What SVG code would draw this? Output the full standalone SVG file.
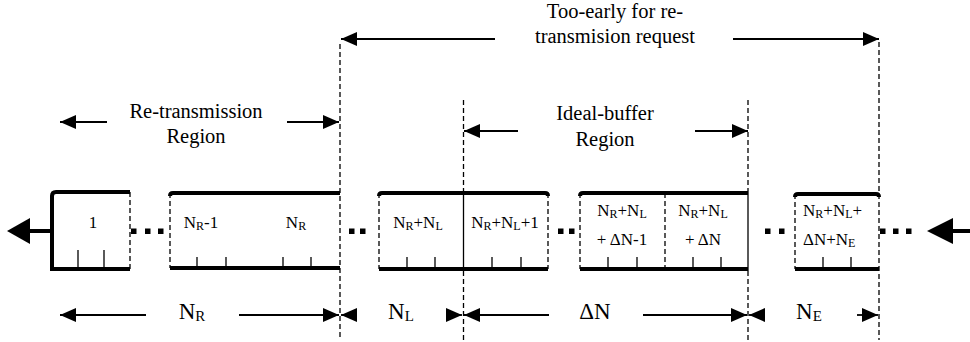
<svg xmlns="http://www.w3.org/2000/svg" width="970" height="342" viewBox="0 0 970 342">
<style>
text{font-family:"Liberation Serif","Times New Roman",serif;fill:#000}
.lbl{font-size:20.5px;text-anchor:middle}
.cell{font-size:17px;text-anchor:middle}
.big{font-size:23px;text-anchor:middle}
.thick{stroke:#000;stroke-width:4;fill:none;stroke-linecap:butt}
.dash{stroke:#000;stroke-width:1.3;stroke-dasharray:5 3;fill:none}
.thin{stroke:#000;stroke-width:1.3;fill:none}
.tick{stroke:#000;stroke-width:1.3}
.arr{stroke:#000;stroke-width:1.8;fill:none;marker-end:url(#ah)}
.dot{fill:#000}
</style>
<defs>
<marker id="ah" markerUnits="userSpaceOnUse" markerWidth="17" markerHeight="15" refX="16" refY="7" orient="auto">
<path d="M0,0 L16,7 L0,14 z" fill="#000"/>
</marker>
</defs>

<!-- long dashed boundaries -->
<g id="boundaries">
<line class="dash" x1="340" y1="44" x2="340" y2="340"/>
<line class="dash" x1="463.5" y1="100" x2="463.5" y2="191"/>
<line class="dash" x1="463.5" y1="271" x2="463.5" y2="340"/>
<line class="dash" x1="748" y1="100" x2="748" y2="191"/>
<line class="dash" x1="748" y1="271" x2="748" y2="340"/>
<line class="dash" x1="879" y1="42" x2="879" y2="340"/>
</g>

<!-- region labels -->
<g id="too-early">
<text class="lbl" x="615" y="18">Too-early for re-</text>
<text class="lbl" x="615" y="43">transmision request</text>
</g>
<g id="retransmission-region">
<text class="lbl" x="196" y="118">Re-transmission</text>
<text class="lbl" x="196" y="143">Region</text>
</g>
<g id="ideal-buffer-region">
<text class="lbl" x="605" y="120">Ideal-buffer</text>
<text class="lbl" x="605" y="146">Region</text>
</g>

<!-- cell 1 -->
<g id="cell-1">
<path class="thick" d="M130,192 H56 Q52,192 52,196 V269 H130"/>
<line class="dash" x1="130" y1="192" x2="130" y2="269"/>
<line class="tick" x1="78" y1="250" x2="78" y2="268"/>
<line class="tick" x1="104" y1="250" x2="104" y2="268"/>
<text class="cell" x="93" y="228">1</text>
</g>

<!-- cells N_R-1 .. N_R -->
<g id="cell-NR">
<path class="thick" d="M170,196 Q170,193 173,193 H340"/>
<path class="thick" d="M170,268 H340"/>
<line class="dash" x1="170" y1="193" x2="170" y2="268"/>
<line class="tick" x1="197" y1="257" x2="197" y2="267"/>
<line class="tick" x1="226" y1="257" x2="226" y2="267"/>
<line class="tick" x1="283" y1="257" x2="283" y2="267"/>
<line class="tick" x1="311" y1="257" x2="311" y2="267"/>
<text class="cell" x="201" y="228">N<tspan font-size="12" dy="2">R</tspan><tspan dy="-2">-1</tspan></text>
<text class="cell" x="296" y="228">N<tspan font-size="12" dy="2">R</tspan></text>
</g>

<!-- cells N_R+N_L .. N_R+N_L+1 -->
<g id="cell-NRNL">
<path class="thick" d="M379,196 Q379,193 382,193 H545 Q548,193 548,196"/>
<path class="thick" d="M379,269 H548"/>
<line class="dash" x1="379" y1="193" x2="379" y2="269"/>
<line class="dash" x1="548" y1="193" x2="548" y2="269"/>
<line class="thin" x1="463.5" y1="191" x2="463.5" y2="271"/>
<line class="tick" x1="407" y1="257" x2="407" y2="268"/>
<line class="tick" x1="435" y1="257" x2="435" y2="268"/>
<line class="tick" x1="492" y1="257" x2="492" y2="268"/>
<line class="tick" x1="521" y1="257" x2="521" y2="268"/>
<text class="cell" x="418" y="228">N<tspan font-size="12" dy="2">R</tspan><tspan dy="-2">+N</tspan><tspan font-size="12" dy="2">L</tspan></text>
<text class="cell" x="505" y="228">N<tspan font-size="12" dy="2">R</tspan><tspan dy="-2">+N</tspan><tspan font-size="12" dy="2">L</tspan><tspan dy="-2">+1</tspan></text>
</g>

<!-- cells N_R+N_L+ΔN-1 .. N_R+N_L+ΔN -->
<g id="cell-NRNLdN">
<path class="thick" d="M580,196 Q580,193 583,193 H748"/>
<path class="thick" d="M580,269 H748"/>
<line class="dash" x1="580" y1="193" x2="580" y2="269"/>
<line class="dash" x1="665" y1="193" x2="665" y2="269"/>
<line class="thin" x1="748" y1="191" x2="748" y2="271"/>
<line class="tick" x1="608" y1="257" x2="608" y2="268"/>
<line class="tick" x1="637" y1="257" x2="637" y2="268"/>
<line class="tick" x1="693" y1="257" x2="693" y2="268"/>
<line class="tick" x1="721" y1="257" x2="721" y2="268"/>
<text class="cell" x="622" y="216">N<tspan font-size="12" dy="2">R</tspan><tspan dy="-2">+N</tspan><tspan font-size="12" dy="2">L</tspan></text>
<text class="cell" x="622" y="245">+ ΔN-1</text>
<text class="cell" x="703" y="216">N<tspan font-size="12" dy="2">R</tspan><tspan dy="-2">+N</tspan><tspan font-size="12" dy="2">L</tspan></text>
<text class="cell" x="703" y="245">+ ΔN</text>
</g>

<!-- cell N_R+N_L+ΔN+N_E -->
<g id="cell-last">
<path class="thick" d="M795,197 Q795,194 798,194 H876 Q879,194 879,197"/>
<path class="thick" d="M795,269 H879"/>
<line class="dash" x1="795" y1="194" x2="795" y2="269"/>
<line class="tick" x1="823" y1="257" x2="823" y2="268"/>
<line class="tick" x1="851" y1="257" x2="851" y2="268"/>
<text x="803" y="216" font-size="17">N<tspan font-size="12" dy="2">R</tspan><tspan dy="-2">+N</tspan><tspan font-size="12" dy="2">L</tspan><tspan dy="-2">+</tspan></text>
<text x="803" y="245" font-size="17">ΔN+N<tspan font-size="12" dy="2">E</tspan></text>
</g>

<!-- ellipsis dots -->
<g id="dots">
<rect class="dot" x="131" y="228.5" width="5.5" height="5.5"/>
<rect class="dot" x="145" y="228.5" width="5.5" height="5.5"/>
<rect class="dot" x="158" y="228.5" width="5.5" height="5.5"/>
<rect class="dot" x="349" y="228.5" width="5.5" height="5.5"/>
<rect class="dot" x="360" y="228.5" width="5.5" height="5.5"/>
<rect class="dot" x="558" y="228.5" width="5.5" height="5.5"/>
<rect class="dot" x="569" y="228.5" width="5.5" height="5.5"/>
<rect class="dot" x="765" y="228.5" width="5.5" height="5.5"/>
<rect class="dot" x="779" y="228.5" width="5.5" height="5.5"/>
<rect class="dot" x="880" y="228.5" width="5.5" height="5.5"/>
<rect class="dot" x="893" y="228.5" width="5.5" height="5.5"/>
<rect class="dot" x="906" y="228.5" width="5.5" height="5.5"/>
</g>

<!-- size labels -->
<g id="size-labels">
<text class="big" x="192" y="319">N<tspan font-size="15" dy="2">R</tspan></text>
<text class="big" x="401" y="319">N<tspan font-size="15" dy="2">L</tspan></text>
<text class="big" x="595" y="319">ΔN</text>
<text class="big" x="809" y="319">N<tspan font-size="15" dy="2">E</tspan></text>
</g>

<!-- connectors -->
<g id="connectors">
<line class="arr" x1="495" y1="39" x2="341" y2="39"/>
<line class="arr" x1="733" y1="39" x2="879" y2="39"/>
<line class="arr" x1="107" y1="122" x2="60" y2="122"/>
<line class="arr" x1="287" y1="122" x2="339" y2="122"/>
<line class="arr" x1="518" y1="131" x2="464" y2="131"/>
<line class="arr" x1="695" y1="131" x2="748" y2="131"/>
<line class="arr" x1="146" y1="315" x2="60" y2="315"/>
<line class="arr" x1="239" y1="315" x2="339" y2="315"/>
<line class="arr" x1="357" y1="315" x2="341" y2="315"/>
<line class="arr" x1="446" y1="315" x2="462" y2="315"/>
<line class="arr" x1="549" y1="315" x2="464" y2="315"/>
<line class="arr" x1="643" y1="315" x2="747" y2="315"/>
<line class="arr" x1="765" y1="315" x2="749" y2="315"/>
<line class="arr" x1="857" y1="315" x2="878" y2="315"/>
<line x1="52" y1="231" x2="28" y2="231" stroke="#000" stroke-width="4"/>
<polygon points="7,231 30,218 30,244" fill="#000"/>
<line x1="951" y1="231" x2="970" y2="231" stroke="#000" stroke-width="4"/>
<polygon points="927,231 953,218 953,244" fill="#000"/>
</g>
</svg>
